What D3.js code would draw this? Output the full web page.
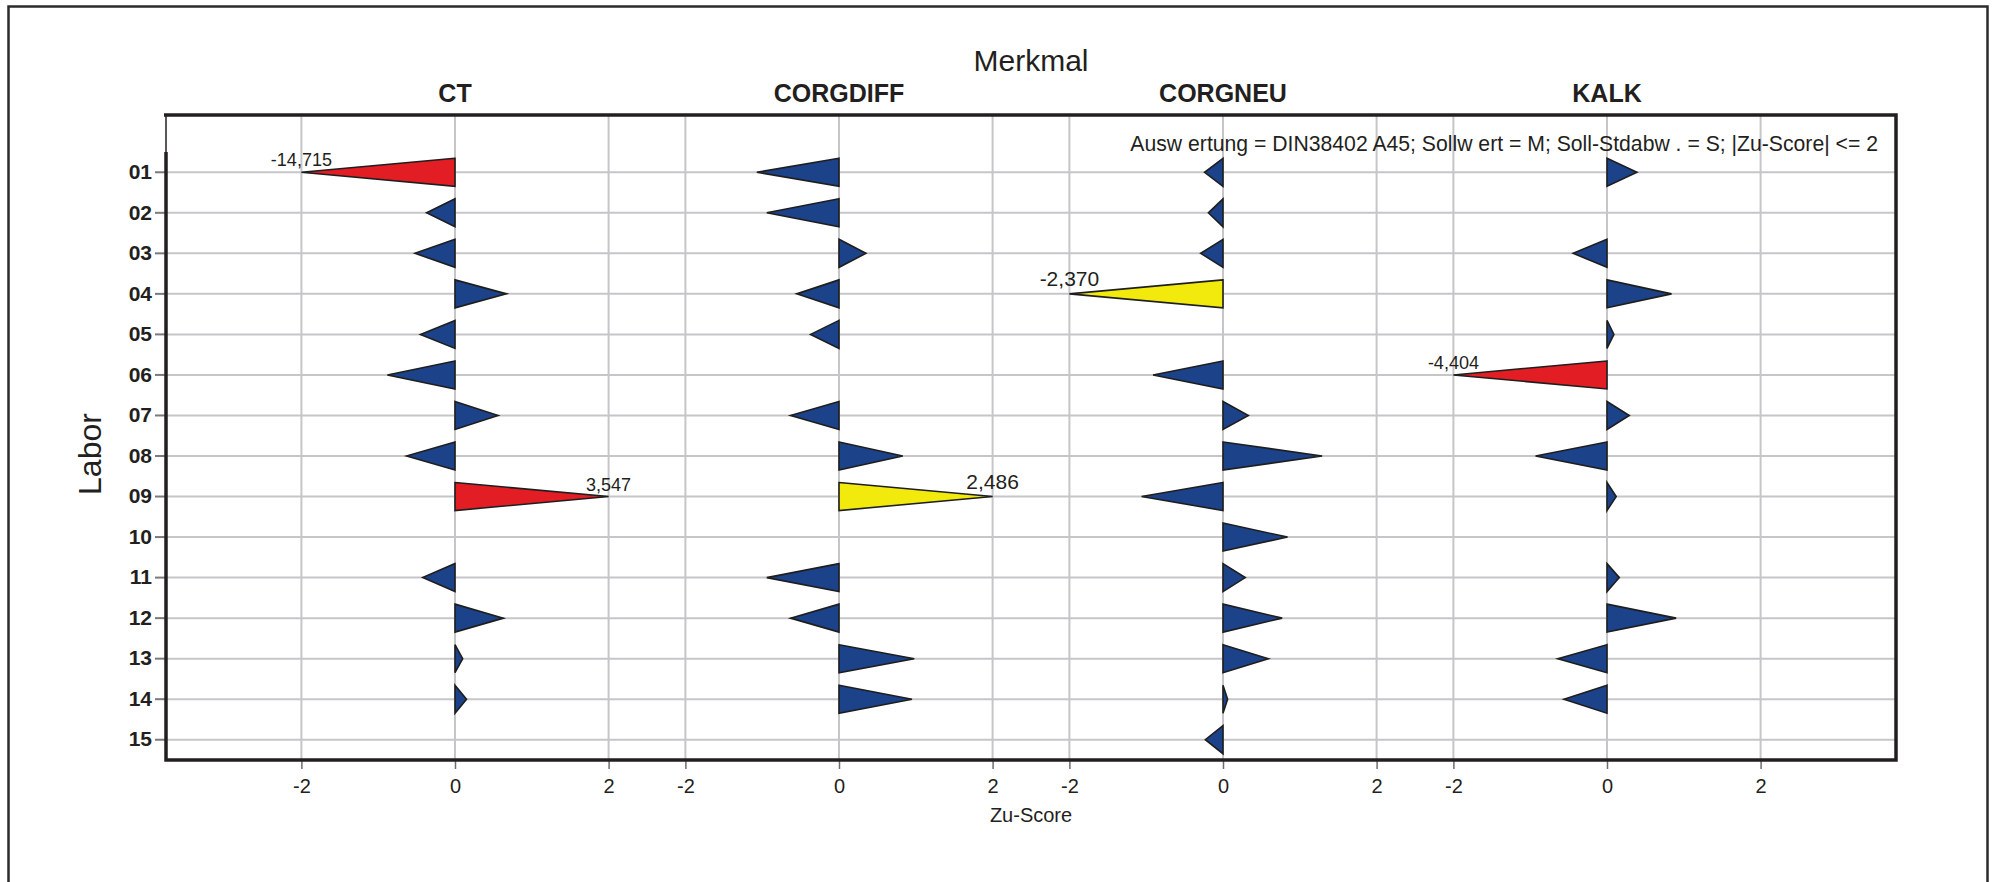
<!DOCTYPE html>
<html>
<head>
<meta charset="utf-8">
<script src="https://cdn.jsdelivr.net/npm/d3@7"></script>
<style>
  html, body { margin: 0; padding: 0; background: #fff; }
  svg { display: block; font-family: "Liberation Sans", Arial, sans-serif; }
</style>
</head>
<body>
<svg id="chart" width="1997" height="882"></svg>
<script>
// Laboratories (rows) and characteristics (panels)
const labs = ["01","02","03","04","05","06","07","08","09","10","11","12","13","14","15"];
const merkmale = ["CT", "CORGDIFF", "CORGNEU", "KALK"];

// Z-scores per characteristic, one per lab (null = no result)
const ct       = [-14.715, -0.37, -0.52, 0.67, -0.45, -0.88, 0.56, -0.63, 3.547, null, -0.42, 0.63, 0.10, 0.15, null];
const corgdiff = [-1.07, -0.94, 0.35, -0.55, -0.37, null, -0.63, 0.83, 2.486, null, -0.94, -0.63, 0.98, 0.95, null];
const corgneu  = [-0.24, -0.19, -0.29, -2.370, null, -0.91, 0.33, 1.29, -1.06, 0.84, 0.29, 0.77, 0.59, 0.06, -0.23];
const kalk     = [0.39, null, -0.44, 0.84, 0.09, -4.404, 0.29, -0.93, 0.12, null, 0.16, 0.90, -0.64, -0.56, null];
const seriesValues = [ct, corgdiff, corgneu, kalk];

const xTickValues = [-2, 0, 2];
const xDomain = [-2.5, 2.5];
const zLimit = 2;

const annotation = "Ausw ertung = DIN38402 A45; Sollw ert = M; Soll-Stdabw . = S; |Zu-Score| <= 2";

// Layout
const plotLeft = 166, plotRight = 1896, plotTop = 115, plotBottom = 760, bandTop = 152;
const sidePad = 97;
const panelW = (plotRight - plotLeft - 2 * sidePad) / merkmale.length;
const halfH = 14;
const textColor = "#231f20";
const gridColor = "#c6c6c9";

// German number style with a plain hyphen as minus sign
const locale = d3.formatLocale({ decimal: ",", thousands: ".", grouping: [3], currency: ["", " €"], minus: "-" });
const fmtTick = locale.format("d");
const fmtVal = locale.format(".3f");

const svg = d3.select("#chart");

// Outer frame
svg.append("rect")
  .attr("x", 8.5).attr("y", 6.5).attr("width", 1979).attr("height", 1000)
  .attr("fill", "none").attr("stroke", "#2b2b2b").attr("stroke-width", 2.5);

const y = d3.scaleBand().domain(labs).range([bandTop, plotBottom]);
const yc = d => y(d) + y.bandwidth() / 2;

const panelScale = i => d3.scaleLinear().domain(xDomain)
  .range([plotLeft + sidePad + i * panelW, plotLeft + sidePad + (i + 1) * panelW]);

// Horizontal grid lines
svg.append("g").selectAll("line").data(labs).join("line")
  .attr("x1", plotLeft).attr("x2", plotRight)
  .attr("y1", d => yc(d)).attr("y2", d => yc(d))
  .attr("stroke", gridColor).attr("stroke-width", 2);

// Vertical grid lines and bottom axes per panel
merkmale.forEach((m, i) => {
  const x = panelScale(i);
  svg.append("g").selectAll("line").data(xTickValues).join("line")
    .attr("x1", d => x(d)).attr("x2", d => x(d))
    .attr("y1", plotTop).attr("y2", plotBottom)
    .attr("stroke", gridColor).attr("stroke-width", 2);

  const ax = svg.append("g").attr("transform", `translate(0,${plotBottom})`)
    .call(d3.axisBottom(x).tickValues(xTickValues).tickSize(9).tickPadding(10).tickFormat(fmtTick));
  ax.select(".domain").remove();
  ax.selectAll(".tick line").attr("stroke", "#6d6d6d").attr("stroke-width", 1.5);
  ax.selectAll(".tick text").attr("font-size", 20).attr("fill", textColor)
    .attr("font-family", "Liberation Sans, Arial, sans-serif");

  svg.append("text")
    .attr("x", x(0)).attr("y", 101.5)
    .attr("text-anchor", "middle").attr("font-size", 25).attr("font-weight", "bold")
    .attr("fill", textColor).text(m);
});

// Y axis ticks and labels
const yAx = svg.append("g").attr("transform", `translate(${plotLeft},0)`)
  .call(d3.axisLeft(y).tickSize(11).tickPadding(3));
yAx.select(".domain").remove();
yAx.selectAll(".tick line").attr("stroke", "#7a7a7a").attr("stroke-width", 2);
yAx.selectAll(".tick text").attr("font-size", 21).attr("font-weight", "bold")
  .attr("fill", textColor).attr("font-family", "Liberation Sans, Arial, sans-serif");

// Plot frame: thin left segment above the bands, thick elsewhere
svg.append("line").attr("x1", plotLeft).attr("x2", plotLeft).attr("y1", plotTop).attr("y2", bandTop)
  .attr("stroke", "#231f20").attr("stroke-width", 1.5);
svg.append("path")
  .attr("d", `M${plotLeft},${bandTop}V${plotBottom}H${plotRight}V${plotTop}H${plotLeft - 2}`)
  .attr("fill", "none").attr("stroke", "#231f20").attr("stroke-width", 3.5);

// Triangles: base on the zero line, tip at the (clipped) z-score
const colorFor = v => Math.abs(v) > 3 ? "#e31d24" : (Math.abs(v) > zLimit ? "#f2ea0c" : "#1c428a");
const clip = v => Math.max(-zLimit, Math.min(zLimit, v));

merkmale.forEach((m, i) => {
  const x = panelScale(i);
  const rows = labs.map((l, j) => ({ lab: l, v: seriesValues[i][j] })).filter(d => d.v !== null);
  const g = svg.append("g");
  g.selectAll("path").data(rows).join("path")
    .attr("d", d => {
      const cy = yc(d.lab);
      return `M${x(0)},${cy - halfH}L${x(clip(d.v))},${cy}L${x(0)},${cy + halfH}Z`;
    })
    .attr("fill", d => colorFor(d.v))
    .attr("stroke", "#1e1e1e").attr("stroke-width", 1.6).attr("stroke-linejoin", "miter");

  // Out-of-range results carry their actual value at the tip
  g.selectAll("text").data(rows.filter(d => Math.abs(d.v) > zLimit)).join("text")
    .attr("x", d => x(clip(d.v)))
    .attr("y", d => yc(d.lab) - (Math.abs(d.v) > 3 ? 6 : 7.5))
    .attr("text-anchor", "middle")
    .attr("font-size", d => Math.abs(d.v) > 3 ? 18 : 21)
    .attr("fill", textColor)
    .text(d => fmtVal(d.v));
});

// Titles
svg.append("text").attr("x", (plotLeft + plotRight) / 2).attr("y", 70.5)
  .attr("text-anchor", "middle").attr("font-size", 30).attr("fill", textColor).text("Merkmal");
svg.append("text").attr("x", (plotLeft + plotRight) / 2).attr("y", 822)
  .attr("text-anchor", "middle").attr("font-size", 20).attr("fill", textColor).text("Zu-Score");
svg.append("text").attr("transform", "translate(100.5,454) rotate(-90)")
  .attr("text-anchor", "middle").attr("font-size", 32).attr("fill", textColor).text("Labor");
svg.append("text").attr("x", 1878).attr("y", 151)
  .attr("text-anchor", "end").attr("font-size", 21.2).attr("fill", textColor).text(annotation);
</script>
</body>
</html>
